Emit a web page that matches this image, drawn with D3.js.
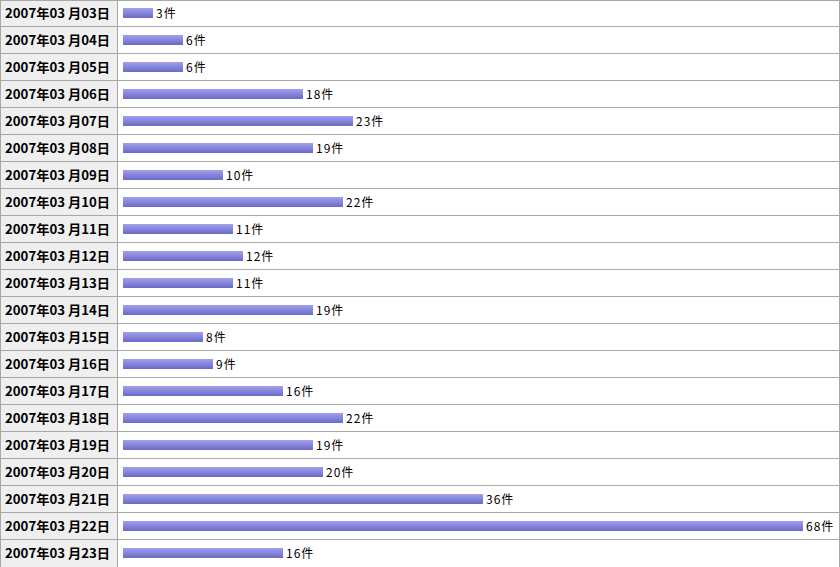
<!DOCTYPE html>
<html><head><meta charset="utf-8">
<script src="https://cdn.jsdelivr.net/npm/d3@7"></script>
<style>body{margin:0;background:#fff}svg{display:block}</style>
</head><body><svg id="c" width="840" height="567"></svg>
<script>
const dates = ["2007年03 月03日","2007年03 月04日","2007年03 月05日","2007年03 月06日","2007年03 月07日","2007年03 月08日","2007年03 月09日","2007年03 月10日","2007年03 月11日","2007年03 月12日","2007年03 月13日","2007年03 月14日","2007年03 月15日","2007年03 月16日","2007年03 月17日","2007年03 月18日","2007年03 月19日","2007年03 月20日","2007年03 月21日","2007年03 月22日","2007年03 月23日"];
const counts = [3,6,6,18,23,19,10,22,11,12,11,19,8,9,16,22,19,20,36,68,16];
const unit = "件";

const W = 840, H = 567, rowH = 27, labelW = 117;
const svg = d3.select("#c");
const defs = svg.append("defs");
const g = defs.append("linearGradient").attr("id","bg").attr("x1",0).attr("y1",0).attr("x2",0).attr("y2",1);
g.append("stop").attr("offset","0%").attr("stop-color","#a0a0ec");
g.append("stop").attr("offset","100%").attr("stop-color","#6a6ac8");

const y = d3.scaleBand().domain(d3.range(dates.length)).range([0, rowH*dates.length]);
const x = d3.scaleLinear().domain([0, 68]).range([123, 803]);

svg.append("rect").attr("x",0).attr("y",0).attr("width",labelW).attr("height",H).attr("fill","#efefef");

const rows = svg.selectAll("g.row").data(counts).join("g").attr("class","row")
  .attr("transform",(d,i)=>`translate(0,${y(i)})`);

rows.append("text").attr("x",5).attr("y",18)
  .attr("font-family","'Noto Sans CJK JP', sans-serif").attr("font-weight","bold").attr("font-size",13)
  .attr("textLength",105).attr("lengthAdjust","spacingAndGlyphs")
  .attr("fill","#000").text((d,i)=>dates[i]);

rows.append("rect").attr("x",x(0)).attr("y",8).attr("height",10)
  .attr("width",d=>x(d)-x(0)).attr("fill","url(#bg)");

rows.append("text").attr("x",d=>x(d)+3).attr("y",18)
  .attr("font-family","'Noto Sans CJK JP', sans-serif").attr("font-size",12)
  .attr("letter-spacing",1)
  .attr("fill","#000").text(d=>d+unit);

// grid lines
const lines = svg.append("g").attr("stroke","#a8a8a8").attr("stroke-width",1).attr("shape-rendering","crispEdges");
d3.range(1, dates.length).forEach(i=>{
  lines.append("line").attr("x1",0).attr("x2",W).attr("y1",y(i)-0.5).attr("y2",y(i)-0.5);
});
lines.append("line").attr("x1",0).attr("x2",W).attr("y1",0.5).attr("y2",0.5);
lines.append("line").attr("x1",0.5).attr("x2",0.5).attr("y1",0).attr("y2",H);
lines.append("line").attr("x1",labelW+0.5).attr("x2",labelW+0.5).attr("y1",0).attr("y2",H);
lines.append("line").attr("x1",W-0.5).attr("x2",W-0.5).attr("y1",0).attr("y2",H);
</script></body></html>
